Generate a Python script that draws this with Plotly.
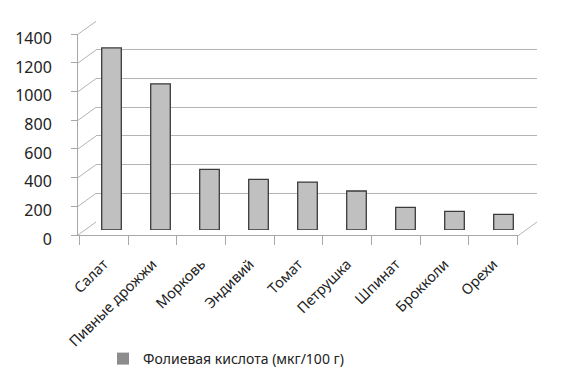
import plotly.graph_objects as go

# ---------------- data ----------------
categories = ["Салат", "Пивные дрожжи", "Морковь", "Эндивий", "Томат",
              "Петрушка", "Шпинат", "Брокколи", "Орехи"]
folate = [1270, 1020, 423, 353, 334, 272, 158, 130, 109]
y_ticks = [0, 200, 400, 600, 800, 1000, 1200, 1400]
series_name = "Фолиевая кислота (мкг/100 г)"

# ---------------- geometry (pixels) ----------------
W, H = 587, 372
def px(x): return x / W
def py(y): return 1 - y / H

Y_MAX = 1400
FRONT_L, FRONT_R = 78, 519          # front floor edge
FRONT_Y0, FRONT_Y1 = 235, 34.3      # front axis: 0 and Y_MAX
BACK_DX, BACK_DY = 18, -13          # offset of back wall
BAR_DX, BAR_DY = 9, -5              # offset of the bar plane

GRID = "#b4b4b4"
AXIS = "#a8a8a8"
FONT = "Noto Sans"

def front_y(v):
    return FRONT_Y0 + (FRONT_Y1 - FRONT_Y0) * v / Y_MAX

fig = go.Figure()

# back wall subplot (x, y): grid only
fig.add_trace(go.Scatter(x=categories, y=[None] * len(categories), xaxis="x", yaxis="y",
                         showlegend=False, hoverinfo="skip"))
# bars subplot (x2, y2)
fig.add_trace(go.Bar(x=categories, y=folate, xaxis="x2", yaxis="y2",
                     marker=dict(color="#c0c0c0", line=dict(color="#3a3a3a", width=1.3)),
                     width=0.4, showlegend=False, name=series_name))
# front axes subplot (x3, y3) + legend entry
fig.add_trace(go.Scatter(x=[None], y=[None], xaxis="x3", yaxis="y3", mode="markers",
                         marker=dict(symbol="square", size=12, color="#8c8c8c"),
                         name=series_name))
fig.add_trace(go.Scatter(x=categories, y=[None] * len(categories), xaxis="x3", yaxis="y3",
                         showlegend=False, hoverinfo="skip"))

fig.update_layout(
    width=W, height=H,
    margin=dict(l=0, r=0, t=0, b=0, autoexpand=False),
    paper_bgcolor="white", plot_bgcolor="rgba(0,0,0,0)",
    font=dict(family=FONT, size=15, color="#222222"),
    xaxis=dict(domain=[px(FRONT_L + BACK_DX), px(FRONT_R + BACK_DX)], anchor="y",
               type="category", visible=False, automargin=False),
    yaxis=dict(domain=[py(FRONT_Y0 + BACK_DY), py(FRONT_Y1 + BACK_DY)], anchor="x",
               range=[0, Y_MAX], tickvals=y_ticks, showgrid=True, gridcolor=GRID,
               gridwidth=1, showticklabels=False, zeroline=False, showline=False, ticks="",
               automargin=False),
    xaxis2=dict(domain=[px(FRONT_L + BAR_DX), px(FRONT_R + BAR_DX)], anchor="y2",
                type="category", visible=False, automargin=False),
    yaxis2=dict(domain=[py(FRONT_Y0 + BAR_DY), py(FRONT_Y1 + BAR_DY)], anchor="x2",
                range=[0, Y_MAX], visible=False, automargin=False),
    xaxis3=dict(domain=[px(FRONT_L), px(FRONT_R)], anchor="y3", type="category",
                showline=True, linecolor=AXIS, linewidth=1, showgrid=False,
                ticks="outside", tickson="boundaries", ticklen=9, tickcolor=AXIS,
                tickangle=-45, tickfont=dict(size=14.5), ticklabelstandoff=14,
                automargin=False),
    yaxis3=dict(domain=[py(FRONT_Y0), py(FRONT_Y1)], anchor="x3", range=[0, Y_MAX],
                tickvals=y_ticks, showline=True, linecolor=AXIS, linewidth=1,
                showgrid=False, zeroline=False, ticks="outside", ticklen=6,
                tickcolor=AXIS, ticklabelstandoff=16, ticklabelshift=4,
                tickfont=dict(size=16), automargin=False),
    legend=dict(x=px(103), y=py(343), xanchor="left", yanchor="top",
                font=dict(size=14), bgcolor="rgba(0,0,0,0)"),
    showlegend=True,
)

# side wall diagonals (front axis ticks -> back wall grid lines)
for v in y_ticks:
    fig.add_shape(type="line", xref="paper", yref="paper", layer="below",
                  x0=px(FRONT_L), y0=py(front_y(v)),
                  x1=px(FRONT_L + BACK_DX), y1=py(front_y(v) + BACK_DY),
                  line=dict(color=GRID, width=1))
# floor right edge
fig.add_shape(type="line", xref="paper", yref="paper", layer="below",
              x0=px(FRONT_R), y0=py(FRONT_Y0),
              x1=px(FRONT_R + BACK_DX), y1=py(FRONT_Y0 + BACK_DY),
              line=dict(color=GRID, width=1))

fig.write_html("out.html", config={"displayModeBar": False},
               post_script="document.body.style.margin='0px';document.body.style.overflow='hidden';")
